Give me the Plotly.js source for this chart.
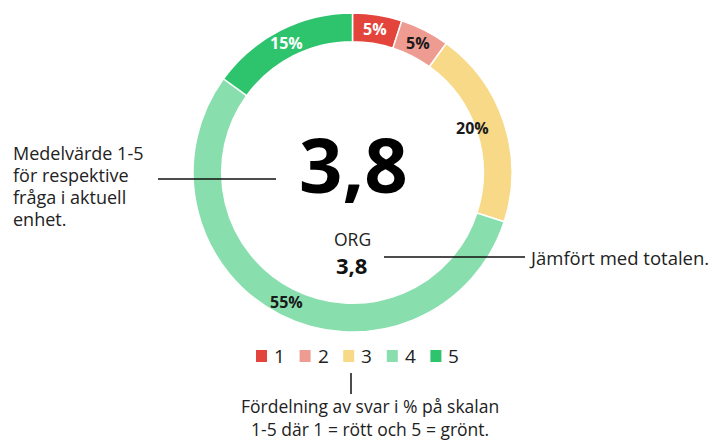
<!DOCTYPE html>
<html><head><meta charset="utf-8">
<script src="https://cdn.plot.ly/plotly-3.0.1.min.js"></script>
<style>html,body{margin:0;padding:0;background:#fff}#chart{width:715px;height:442px}</style>
</head><body><div id="chart"></div>
<script>
const categories = ['1', '2', '3', '4', '5'];
const shares = [5, 5, 20, 55, 15];
const sliceColors = ['#e3443b', '#ee9c92', '#f8d987', '#88dfad', '#2ec46e'];
const sliceTextColors = ['#ffffff', '#1a1a1a', '#1a1a1a', '#1a1a1a', '#ffffff'];
const meanValue = '3,8';
const orgLabel = 'ORG';
const orgValue = '3,8';
const leftNote = ['Medelvärde 1-5', 'för respektive', 'fråga i aktuell', 'enhet.'];
const rightNote = 'Jämfört med totalen.';
const bottomNote = ['Fördelning av svar i % på skalan', '1-5 där 1 = rött och 5 = grönt.'];

const W = 715, H = 442;
const px = x => x / W;
const py = y => 1 - y / H;
const FONT = 'Open Sans, sans-serif';
const TXT = '#222222';

// donut geometry (pixel frame of the pie domain)
const PIE = {left: 193, right: 512, top: 13, bottom: 332};
const HOLE = 0.82;

const trace = {
  type: 'pie',
  labels: categories,
  values: shares,
  sort: false,
  direction: 'clockwise',
  rotation: 0,
  hole: HOLE,
  domain: {x: [px(PIE.left), px(PIE.right)], y: [py(PIE.bottom), py(PIE.top)]},
  marker: {colors: sliceColors, line: {color: '#ffffff', width: 1.5}},
  textinfo: 'none',
  hoverinfo: 'label+percent',
  showlegend: false
};

const annotations = [
  {x: px(353), y: py(163), text: '<b>' + meanValue + '</b>', font: {family: FONT, size: 76, color: '#000'}},
  {x: px(352), y: py(253), yanchor: 'bottom', text: orgLabel, font: {family: FONT, size: 17.5, color: TXT}},
  {x: px(351), y: py(248), yanchor: 'top', text: '<b>' + orgValue + '</b>', font: {family: FONT, size: 22, color: '#111'}},
  {x: px(527), y: py(257), xanchor: 'left', text: rightNote, font: {family: FONT, size: 18.5, color: TXT}},
  {x: px(370), y: py(417), text: bottomNote.join('<br>'), font: {family: FONT, size: 17.5, color: TXT}}
];
leftNote.forEach((t, i) => annotations.push({x: px(11), y: py(153 + i * 22), xanchor: 'left', text: t,
  font: {family: FONT, size: 18, color: TXT}}));

// slice percentage labels placed at each slice's mid-angle on the ring's mid-radius
const cx = (PIE.left + PIE.right) / 2, cy = (PIE.top + PIE.bottom) / 2;
const R = (PIE.right - PIE.left) / 2, rMid = R * (1 + HOLE) / 2;
const total = shares.reduce((a, b) => a + b, 0);
let cum = 0;
shares.forEach((v, i) => {
  const ang = (cum + v / 2) / total * 2 * Math.PI;
  cum += v;
  annotations.push({x: px(cx + rMid * Math.sin(ang)), y: py(cy - rMid * Math.cos(ang)),
    text: '<b>' + v + '%</b>', font: {family: FONT, size: 16, color: sliceTextColors[i]}});
});

const shapes = [
  {type: 'line', xref: 'paper', yref: 'paper', x0: px(158), x1: px(276), y0: py(179), y1: py(179), line: {color: '#111', width: 1.5}},
  {type: 'line', xref: 'paper', yref: 'paper', x0: px(384), x1: px(525), y0: py(257), y1: py(257), line: {color: '#111', width: 1.5}},
  {type: 'line', xref: 'paper', yref: 'paper', x0: px(351), x1: px(351), y0: py(373), y1: py(394), line: {color: '#111', width: 1.5}}
];

// compact legend built from the category / colour arrays
const legendStart = 256, legendStep = 43.6, legendY = 356;
categories.forEach((c, i) => {
  const x0 = legendStart + i * legendStep;
  shapes.push({type: 'rect', xref: 'paper', yref: 'paper', x0: px(x0), x1: px(x0 + 11), y0: py(362), y1: py(350),
    fillcolor: sliceColors[i], line: {width: 0}});
  annotations.push({x: px(x0 + 16), y: py(legendY), xanchor: 'left', text: c, font: {family: FONT, size: 19, color: TXT}});
});
annotations.forEach(a => { a.xref = 'paper'; a.yref = 'paper'; a.showarrow = false; if (!a.yanchor) a.yanchor = 'middle'; });

const layout = {
  width: W, height: H,
  margin: {l: 0, r: 0, t: 0, b: 0},
  paper_bgcolor: '#ffffff', plot_bgcolor: '#ffffff',
  showlegend: false,
  annotations, shapes,
  font: {family: FONT}
};
Plotly.newPlot('chart', [trace], layout, {displayModeBar: false, staticPlot: true});
</script></body></html>
